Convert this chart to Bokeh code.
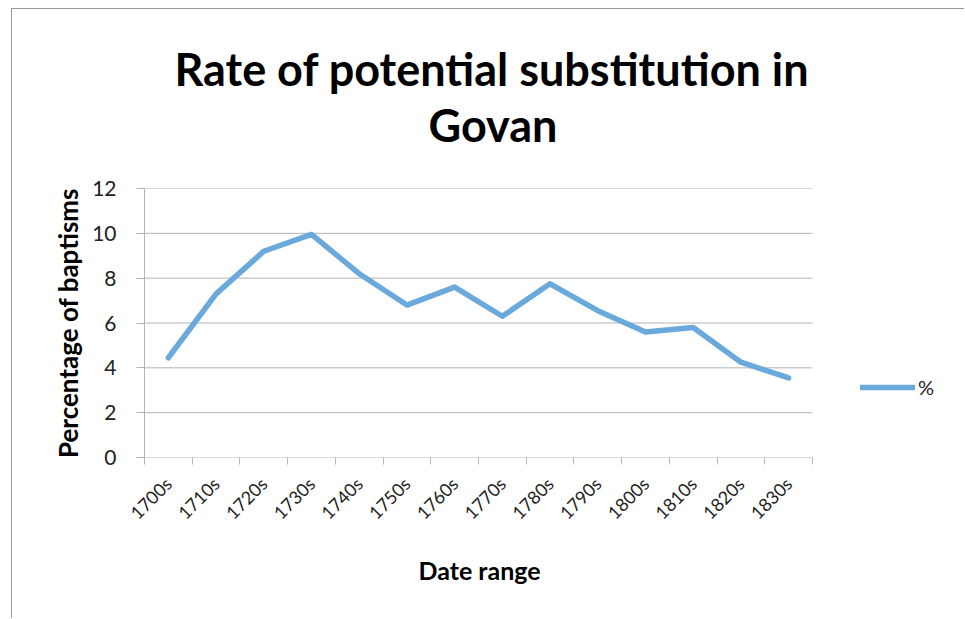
import math

from bokeh.embed import file_html
from bokeh.models import (FixedTicker, Legend, LegendItem, Range1d,
                          SingleIntervalTicker, Title)
from bokeh.plotting import figure
from bokeh.resources import INLINE

# Decades and the share of baptisms (%) flagged as potential substitutions
decades = ["1700s", "1710s", "1720s", "1730s", "1740s", "1750s", "1760s",
           "1770s", "1780s", "1790s", "1800s", "1810s", "1820s", "1830s"]
percent = [4.45, 7.3, 9.2, 9.95, 8.2, 6.8, 7.6, 6.3, 7.75, 6.55, 5.6, 5.8, 4.25, 3.55]

y_ticks_step = 2
y_max = 12

FONT = "Lato"
GRID = "#b4b4b4"
LINE = "#6aa9db"

n = len(decades)
centers = [i + 0.5 for i in range(n)]
boundaries = list(range(n + 1))
levels = list(range(0, y_max + 1, y_ticks_step))

# layout in pixels: the plotting area runs on to the right edge so the
# legend can sit beside the axes; the data only use the first 668 px of it
FIG_W, FIG_H = 953, 610
LEFT, TOP, BOTTOM = 132, 179, 162
DATA_W = 668
frame_w = FIG_W - LEFT
x_end = n * frame_w / DATA_W

p = figure(
    width=FIG_W, height=FIG_H,
    x_range=Range1d(0, x_end), y_range=Range1d(0, y_max),
    output_backend="svg", toolbar_location=None, title_location=None,
    min_border_left=LEFT, min_border_right=0,
    min_border_top=TOP, min_border_bottom=BOTTOM,
)
p.margin = (8, 0, 0, 11)
p.styles = {"border-top": "1px solid #9a9a9a", "border-left": "1px solid #9a9a9a"}
p.outline_line_color = None
p.background_fill_color = "white"
p.border_fill_color = "white"

# Chart title on two lines (left-aligned titles, offset to sit centred over the data)
t2 = Title(text="Govan", align="left", offset=284, text_font=FONT,
           text_font_size="45px", text_font_style="bold", text_color="black",
           standoff=74)
t1 = Title(text="Rate of potential substitution in", align="left", offset=30,
           text_font=FONT, text_font_size="45px", text_font_style="bold",
           text_color="black", standoff=-74)
p.add_layout(t2, "above")
p.add_layout(t1, "above")

# horizontal grid lines over the data width only
p.segment(x0=0, x1=n, y0=levels, y1=levels, line_color=GRID, line_width=1)

r = p.line(centers, percent, line_width=5.5, line_color=LINE, line_join="round",
           line_cap="round")

# x axis: labels at decade centres, tick marks on the decade boundaries
xa = p.xaxis[0]
xa.ticker = FixedTicker(ticks=centers, minor_ticks=boundaries)
xa.major_label_overrides = {c: d for c, d in zip(centers, decades)}
xa.major_label_orientation = math.pi / 4
xa.major_tick_out = 0
xa.major_tick_in = 0
xa.minor_tick_out = 7
xa.minor_tick_in = 0
xa.minor_tick_line_color = GRID
xa.axis_line_color = None
xa.major_label_text_font = FONT
xa.major_label_text_font_size = "18px"
xa.major_label_text_color = "#222222"
xa.major_label_standoff = 16

xlabel = Title(text="Date range", align="left", offset=274, text_font=FONT,
               text_font_size="25px", text_font_style="bold", text_color="black",
               standoff=36)
p.add_layout(xlabel, "below")

ya = p.yaxis[0]
ya.ticker = SingleIntervalTicker(interval=y_ticks_step)
ya.minor_tick_out = 0
ya.minor_tick_in = 0
ya.major_tick_out = 8
ya.major_tick_in = 0
ya.major_tick_line_color = GRID
ya.axis_line_color = GRID
ya.major_label_text_font = FONT
ya.major_label_text_font_size = "21px"
ya.major_label_text_color = "#222222"
ya.major_label_standoff = 20
ya.axis_label = "Percentage of baptisms"
ya.axis_label_text_font = FONT
ya.axis_label_text_font_size = "26px"
ya.axis_label_text_font_style = "bold"
ya.axis_label_text_color = "black"
ya.axis_label_standoff = 5

p.xgrid.visible = False
p.ygrid.visible = False

legend = Legend(items=[LegendItem(label="%", renderers=[r])], location=(DATA_W + 48, 58),
                padding=0, margin=0, border_line_color=None,
                background_fill_alpha=0, glyph_width=55, glyph_height=20,
                label_standoff=3, label_text_font=FONT, label_text_font_size="20px",
                label_text_color="#222222")
p.add_layout(legend, "center")

open("out.html", "w").write(file_html(p, INLINE))
